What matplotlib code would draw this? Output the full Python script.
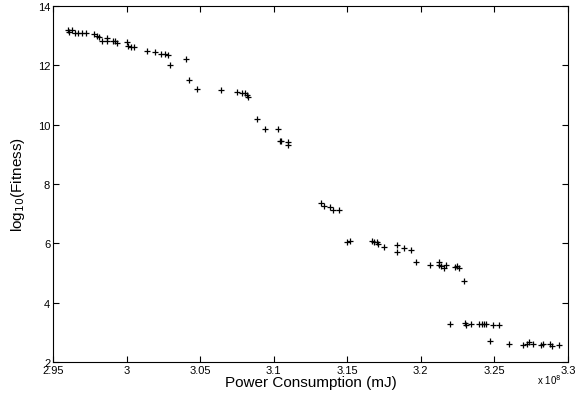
import matplotlib
matplotlib.use("Agg")
import matplotlib.pyplot as plt

plt.rcParams['font.family'] = ['Liberation Sans', 'DejaVu Sans']

# power consumption in units of 1e8 mJ
power = [2.9604, 2.9627, 2.9611, 2.9650, 2.9672, 2.9695, 2.9722, 2.9781, 2.9797, 2.9815,
         2.9833, 2.9865, 2.9865, 2.9906, 2.9921, 2.9933, 3.0001, 3.0012, 3.0030, 3.0053,
         3.0141, 3.0193, 3.0232, 3.0261, 3.0280, 3.0297, 3.0404, 3.0427, 3.0479,
         3.0644, 3.0751, 3.0785, 3.0805, 3.0817, 3.0824, 3.0889, 3.0943, 3.1032, 3.1050,
         3.1043, 3.1100, 3.1100,
         3.1322, 3.1344, 3.1383, 3.1405, 3.1446, 3.1500, 3.1519, 3.1669, 3.1682, 3.1705,
         3.1710, 3.1752, 3.1839, 3.1839, 3.1888, 3.1934, 3.1970, 3.2065, 3.2126, 3.2126,
         3.2135, 3.2158, 3.2169, 3.2235, 3.2249, 3.2262, 3.2292,
         3.2199, 3.2303, 3.2308, 3.2340, 3.2394, 3.2416, 3.2430, 3.2441, 3.2489, 3.2534,
         3.2473, 3.2600, 3.2695, 3.2724, 3.2738, 3.2761, 3.2815, 3.2829, 3.2879, 3.2894,
         3.2942]
log_fitness = [13.20, 13.20, 13.11, 13.08, 13.08, 13.08, 13.08, 13.06, 13.00, 12.95,
               12.80, 12.91, 12.80, 12.80, 12.80, 12.75, 12.78, 12.63, 12.61, 12.61,
               12.49, 12.46, 12.38, 12.38, 12.35, 12.02, 12.21, 11.50, 11.20,
               11.15, 11.09, 11.07, 11.07, 11.00, 10.94, 10.18, 9.85, 9.85, 9.46,
               9.44, 9.40, 9.31,
               7.35, 7.25, 7.23, 7.12, 7.12, 6.06, 6.08, 6.08, 6.05, 6.04,
               5.99, 5.89, 5.94, 5.72, 5.83, 5.78, 5.36, 5.26, 5.36, 5.27,
               5.25, 5.16, 5.27, 5.20, 5.23, 5.17, 4.73,
               3.27, 3.31, 3.23, 3.27, 3.27, 3.27, 3.27, 3.27, 3.25, 3.23,
               2.71, 2.60, 2.57, 2.62, 2.67, 2.60, 2.58, 2.61, 2.60, 2.54,
               2.57]

fig = plt.figure(figsize=(5.76, 4.02), dpi=100)
ax = fig.add_axes([0.092, 0.097, 0.894, 0.886])
ax.plot(power, log_fitness, '+', color='black', markersize=4.5, markeredgewidth=0.9)

ax.set_xlim(2.95, 3.3)
ax.set_ylim(2, 14)
ax.set_xticks([2.95, 3.0, 3.05, 3.1, 3.15, 3.2, 3.25, 3.3])
ax.set_xticklabels(['2.95', '3', '3.05', '3.1', '3.15', '3.2', '3.25', '3.3'])
ax.set_yticks([2, 4, 6, 8, 10, 12, 14])
ax.tick_params(direction='in', top=True, right=True, labelsize=8, length=4, width=0.8, pad=2)
for s in ax.spines.values():
    s.set_linewidth(0.8)

ax.set_xlabel('Power Consumption (mJ)', fontsize=11, labelpad=0)
ax.set_ylabel('log$_{10}$(Fitness)', fontsize=11, labelpad=8)
fig.text(0.932, 0.055, r'x 10$^8$', fontsize=7, ha='left', va='center')

fig.savefig('out.png', dpi=100)
